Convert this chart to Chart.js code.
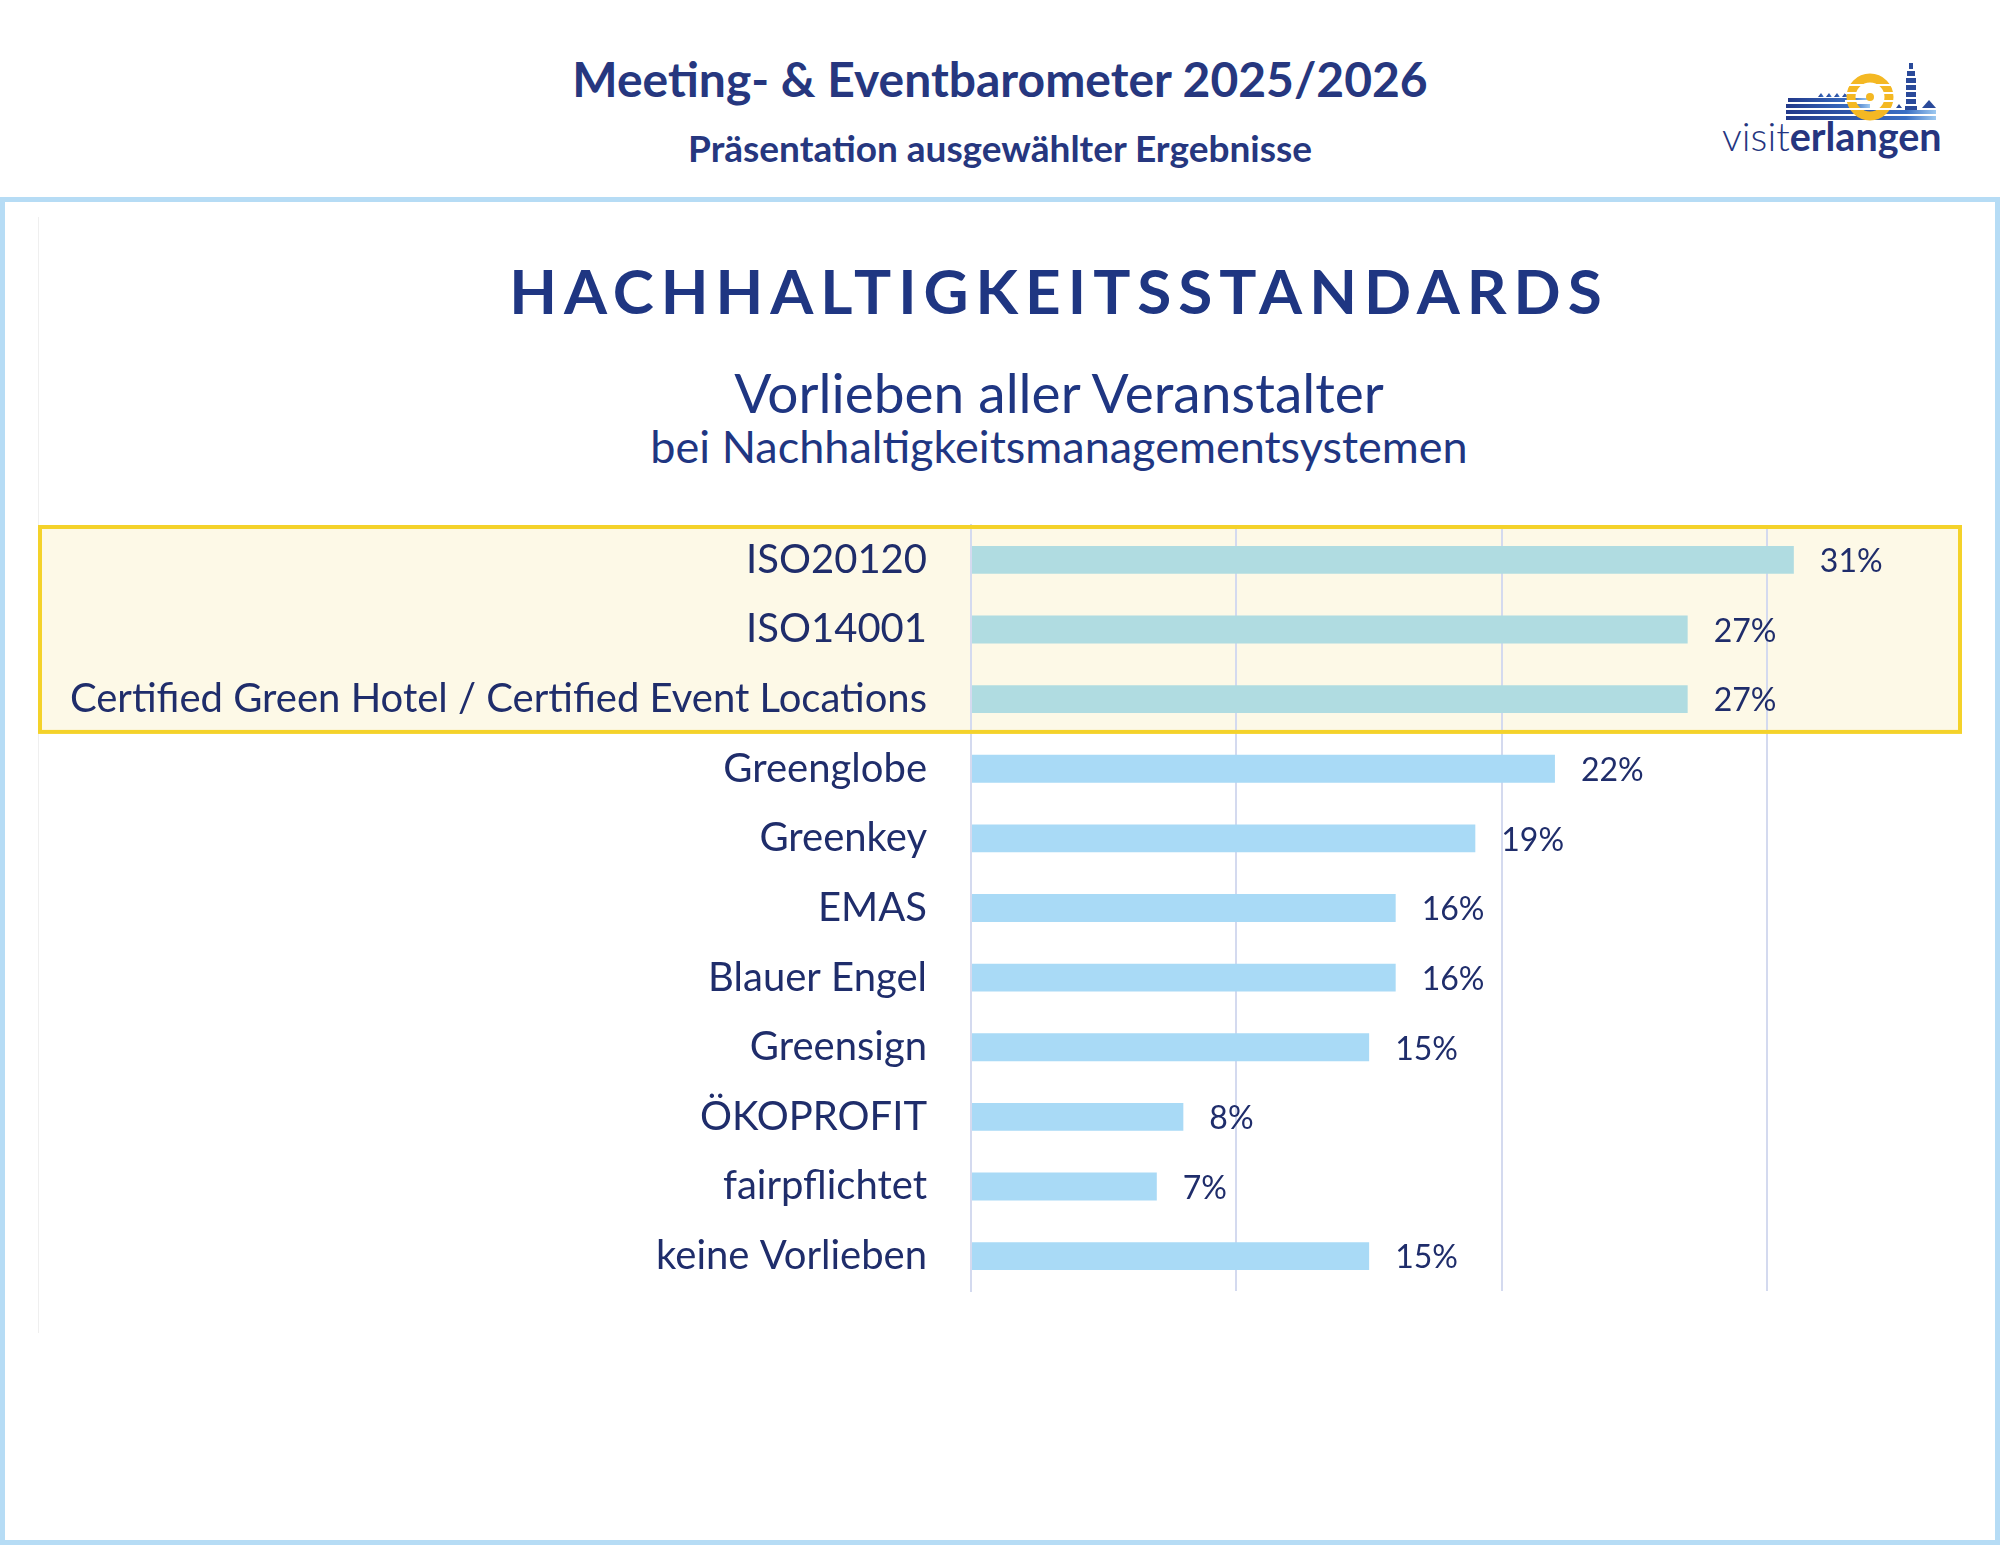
<!DOCTYPE html>
<html lang="de">
<head>
<meta charset="utf-8">
<title>Hachhaltigkeitsstandards</title>
<script src="https://cdn.jsdelivr.net/npm/chart.js@4/dist/chart.umd.min.js"></script>
<style>
  html, body { margin: 0; padding: 0; background: #fff; }
  body { width: 2000px; height: 1545px; position: relative; overflow: hidden; font-family: Lato, "Noto Sans", sans-serif; }
  .txt { position: absolute; white-space: nowrap; line-height: 1; transform: translate(-50%, -50%); }
  #head1 { left: 1000px; top: 79px; font-size: 48px; font-weight: 700; color: #26377f; }
  #head2 { left: 1000px; top: 147px; font-size: 37px; font-weight: 700; color: #26377f; }
  #frame { position: absolute; left: 0; top: 197px; width: 1990px; height: 1338px; border: 5px solid #b6dcf5; }
  #innerline { position: absolute; left: 38px; top: 217px; width: 1px; height: 1116px; background: #efefef; }
  #title { left: 1059px; top: 290px; font-size: 62px; font-weight: 700; letter-spacing: 7px; color: #1f3682; }
  #sub1 { left: 1059px; top: 392px; font-size: 55px; color: #1f3682; }
  #sub2 { left: 1059px; top: 446px; font-size: 45px; color: #1f3682; }
  #logo { position: absolute; left: 1700px; top: 50px; }
  #chart { position: absolute; left: 0; top: 500px; }
</style>
</head>
<body>
<div id="head1" class="txt">Meeting- &amp; Eventbarometer 2025/2026</div>
<div id="head2" class="txt">Präsentation ausgewählter Ergebnisse</div>

<svg id="logo" width="260" height="120" viewBox="0 0 260 120">
  <defs>
    <linearGradient id="hill" x1="0" x2="1" y1="0" y2="0">
      <stop offset="0" stop-color="#22398a"/>
      <stop offset="0.8" stop-color="#3a6fc4"/>
      <stop offset="1" stop-color="#9ec9f0"/>
    </linearGradient>
  </defs>
  <g fill="url(#hill)">
    <rect x="88" y="48" width="80" height="4"/>
    <rect x="86" y="54" width="84" height="4"/>
    <rect x="86" y="60" width="150" height="4"/>
    <rect x="86" y="66" width="150" height="4"/>
    <polygon points="118,47 121,43 124,47"/>
    <polygon points="126,47 129,43 132,47"/>
    <polygon points="134,47 137,43 140,47"/>
    <polygon points="142,47 145,43 148,47"/>
  </g>
  <circle cx="170" cy="47" r="19" fill="none" stroke="#f4b823" stroke-width="9"/>
  <g fill="#fff">
    <rect x="145" y="34" width="50" height="2"/>
    <rect x="145" y="42" width="50" height="2"/>
    <rect x="145" y="50" width="50" height="2"/>
    <rect x="145" y="58" width="50" height="2"/>
  </g>
  <circle cx="170" cy="47" r="4" fill="#f4b823"/>
  <g fill="#2a4a9a">
    <rect x="209" y="13" width="4" height="6"/>
    <rect x="207" y="21" width="8" height="5"/>
    <rect x="206" y="28" width="10" height="5"/>
    <rect x="206" y="35" width="10" height="5"/>
    <rect x="206" y="42" width="10" height="5"/>
    <rect x="206" y="49" width="10" height="5"/>
    <rect x="205" y="56" width="12" height="4"/>
    <polygon points="222,58 229,50 236,58"/>
    <polygon points="196,58 199,54 202,58"/>
  </g>
  <text x="22" y="101" font-family="Lato, sans-serif" font-size="39.5" fill="#25357f"><tspan font-weight="300">visit</tspan><tspan font-weight="700">erlangen</tspan></text>
</svg>

<div id="frame"></div>
<div id="innerline"></div>
<div id="title" class="txt">HACHHALTIGKEITSSTANDARDS</div>
<div id="sub1" class="txt">Vorlieben aller Veranstalter</div>
<div id="sub2" class="txt">bei Nachhaltigkeitsmanagementsystemen</div>

<canvas id="chart" width="2000" height="820"></canvas>

<script>
// Daten
const categories = [
    'ISO20120',
    'ISO14001',
    'Certified Green Hotel / Certified Event Locations',
    'Greenglobe',
    'Greenkey',
    'EMAS',
    'Blauer Engel',
    'Greensign',
    'ÖKOPROFIT',
    'fairpflichtet',
    'keine Vorlieben'
];
const shares = [31, 27, 27, 22, 19, 16, 16, 15, 8, 7, 15];
const highlighted = [0, 1, 2];   // Kategorien im gelben Kasten
const gridValues = [10, 20, 30];

const navy = '#1f2d6b';
const barColors = categories.map((c, i) => highlighted.includes(i) ? '#b0dce1' : '#a9daf6');

// Gelber Kasten hinter den hervorgehobenen Kategorien
const highlightBox = {
    id: 'highlightBox',
    bandOf(chart) {
        const y = chart.scales.y;
        const first = highlighted[0];
        const last = highlighted[highlighted.length - 1];
        const step = y.getPixelForValue(1) - y.getPixelForValue(0);
        return { top: y.getPixelForValue(first) - step / 2, bottom: y.getPixelForValue(last) + step / 2 };
    },
    beforeDraw(chart) {
        const band = this.bandOf(chart);
        const ctx = chart.ctx;
        ctx.save();
        ctx.fillStyle = '#fdf9e7';
        ctx.fillRect(38, band.top, 1962 - 38, band.bottom - band.top);
        ctx.restore();
    },
    afterDraw(chart) {
        const band = this.bandOf(chart);
        const ctx = chart.ctx;
        ctx.save();
        ctx.strokeStyle = '#f4d22a';
        ctx.lineWidth = 4;
        ctx.strokeRect(40, band.top + 2, 1962 - 42, band.bottom - band.top - 4);
        ctx.restore();
    }
};

// Prozentwerte rechts neben den Balken
const valueLabels = {
    id: 'valueLabels',
    afterDatasetsDraw(chart) {
        const ctx = chart.ctx;
        const meta = chart.getDatasetMeta(0);
        ctx.save();
        ctx.font = '32px Lato, sans-serif';
        ctx.fillStyle = navy;
        ctx.textAlign = 'left';
        ctx.textBaseline = 'middle';
        meta.data.forEach((bar, i) => {
            ctx.fillText(shares[i] + '%', bar.x + 26, bar.y + 2);
        });
        ctx.restore();
    }
};

new Chart(document.getElementById('chart'), {
    type: 'bar',
    data: {
        labels: categories,
        datasets: [{
            data: shares,
            backgroundColor: barColors,
            borderWidth: 0,
            barPercentage: 0.4,
            categoryPercentage: 1.0
        }]
    },
    options: {
        indexAxis: 'y',
        responsive: false,
        animation: false,
        layout: {
            padding: { left: 0, top: 25, right: 100, bottom: 29 }
        },
        scales: {
            x: {
                min: 0,
                max: 35,
                ticks: { display: false, stepSize: 10 },
                border: { display: false },
                grid: {
                    drawTicks: false,
                    lineWidth: 2,
                    color: function(ctx) {
                        return gridValues.includes(ctx.tick.value) ? '#d4daef' : 'rgba(0,0,0,0)';
                    }
                },
                afterFit: function(scale) {
                    scale.height = 0;
                    scale.paddingLeft = 0;
                    scale.paddingRight = 0;
                }
            },
            y: {
                grid: { display: false, drawTicks: false },
                border: { display: true, color: '#d4daef', width: 2 },
                ticks: {
                    padding: 44,
                    color: navy,
                    font: { family: 'Lato', size: 40 }
                },
                afterFit: function(scale) {
                    scale.width = 971;
                    scale.paddingTop = 0;
                    scale.paddingBottom = 0;
                }
            }
        },
        plugins: {
            legend: { display: false },
            tooltip: { enabled: false }
        }
    },
    plugins: [highlightBox, valueLabels]
});
</script>
</body>
</html>
